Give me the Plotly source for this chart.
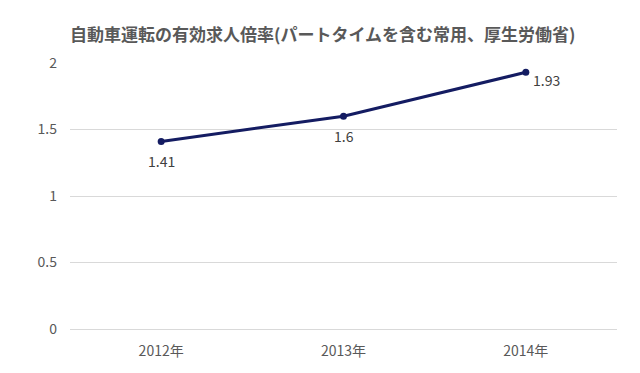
import plotly.graph_objects as go

title = "自動車運転の有効求人倍率(パートタイムを含む常用、厚生労働省)"
years = ["2012年", "2013年", "2014年"]
ratios = [1.41, 1.6, 1.93]
labels = ["1.41", "1.6", "1.93"]
y_ticks = [0, 0.5, 1, 1.5, 2]
y_tick_text = ["0", "0.5", "1", "1.5", "2"]

font_family = "Noto Sans CJK JP, Noto Sans, sans-serif"

fig = go.Figure()
fig.add_trace(go.Scatter(
    x=years, y=ratios, mode="lines+markers",
    line=dict(color="#141c62", width=3),
    marker=dict(color="#141c62", size=7),
    cliponaxis=False,
    showlegend=False,
))

# data labels: below for the first two points, below-right for the last
label_style = [("center", 0, -20), ("center", 0, -20), ("left", 5, -8)]
for xv, yv, txt, (anchor, dx, dy) in zip(years, ratios, labels, label_style):
    fig.add_annotation(x=xv, y=yv, text=txt, showarrow=False,
                       xanchor=anchor, yanchor="middle", xshift=dx, yshift=dy,
                       font=dict(family=font_family, size=14, color="#404040"))

# page body has an 8px margin, so the figure is offset by 8px
fig.update_layout(
    width=632, height=365,
    margin=dict(l=62, r=23, t=55, b=44),
    paper_bgcolor="white", plot_bgcolor="white",
    title=dict(text="<b>" + title + "</b>", x=62 / 632, xanchor="left",
               y=1 - 27 / 365, yanchor="middle",
               font=dict(family=font_family, size=17, color="#595959")),
    font=dict(family=font_family, color="#595959"),
    xaxis=dict(range=[-0.5, 2.5], showgrid=False, showline=False, zeroline=False,
               ticklabelstandoff=12,
               tickfont=dict(size=14, color="#595959"), ticks=""),
    yaxis=dict(range=[0, 2], tickvals=y_ticks, ticktext=y_tick_text,
               showgrid=True, gridcolor="#d9d9d9", gridwidth=1,
               zeroline=True, zerolinecolor="#d9d9d9", zerolinewidth=1,
               showline=False, ticks="",
               ticklabelstandoff=12,
               tickfont=dict(size=14, color="#595959")),
)

fig.write_html("out.html")
